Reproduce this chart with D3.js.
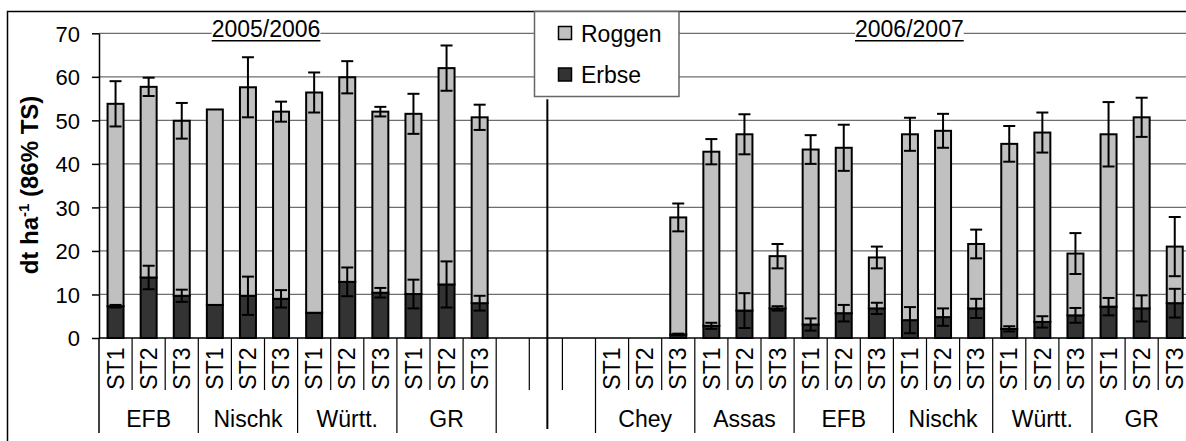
<!DOCTYPE html>
<html>
<head>
<meta charset="utf-8">
<script src="https://cdn.jsdelivr.net/npm/d3@7"></script>
<style>
  body { margin: 0; background: #fff; }
  svg { display: block; }
  text { font-family: "Liberation Sans", Arial, sans-serif; fill: #000; }
</style>
</head>
<body>
<svg id="chart"></svg>
<script>
// categories
const seasons = ['2005/2006', '2006/2007'];
const varieties0506 = ['EFB', 'Nischk', 'Württ.', 'GR'];
const varieties0607 = ['Chey', 'Assas', 'EFB', 'Nischk', 'Württ.', 'GR'];
const stages = ['ST1', 'ST2', 'ST3'];
const seriesNames = ['Roggen', 'Erbse'];
const yTicks = [0, 10, 20, 30, 40, 50, 60, 70];

// dt/ha, order: variety x stage
const erbse0506    = [7.3, 13.9, 9.7,  7.6, 9.7, 9.0,  5.8, 12.9, 10.4,  10.1, 12.3, 8.0];
const roggen0506   = [46.5, 43.8, 40.2, 44.9, 47.9, 43.0, 50.6, 47.0, 41.6, 41.4, 49.7, 42.7];
const errTotal0506 = [5.2, 2.1, 4.1,  0, 6.9, 2.3,  4.6, 3.7, 1.1,  4.6, 5.2, 2.9];
const errErbse0506 = [0.3, 2.7, 1.4,  0, 4.4, 2.0,  0, 3.3, 1.1,  3.3, 5.3, 1.7];

const erbse0607    = [null, null, 0.8,  2.8, 6.3, 6.8,  3.1, 5.7, 6.8,  4.1, 4.8, 6.8,  2.1, 3.7, 5.2,  7.2, 6.8, 8.0];
const roggen0607   = [null, null, 26.9, 40.0, 40.5, 12.0, 40.2, 38.0, 11.7, 42.7, 42.8, 14.8, 42.5, 43.5, 14.2, 39.6, 43.9, 13.0];
const errTotal0607 = [null, null, 3.2,  2.9, 4.6, 2.8,  3.3, 5.3, 2.5,  3.8, 3.9, 3.3,  4.1, 4.6, 4.7,  7.4, 4.5, 6.8];
const errErbse0607 = [null, null, 0.2,  0.7, 4.0, 0.5,  1.4, 1.9, 1.3,  3.0, 2.0, 2.2,  0.6, 1.3, 1.7,  2.0, 3.0, 3.3];

const gapSlots = 3;

// build slot list
let slots = [];
let groups = [];
function addSeason(varieties, erbse, roggen, errT, errE) {
    varieties.forEach((v, gi) => {
        groups.push({ name: v, start: slots.length, count: stages.length });
        stages.forEach((s, si) => {
            let k = gi * stages.length + si;
            slots.push({ stage: s, erbse: erbse[k], roggen: roggen[k], errT: errT[k], errE: errE[k] });
        });
    });
}
addSeason(varieties0506, erbse0506, roggen0506, errTotal0506, errErbse0506);
const gapStart = slots.length;
groups.push({ name: '', start: slots.length, count: gapSlots });
for (let i = 0; i < gapSlots; i++) slots.push({ stage: '', erbse: null, roggen: null });
addSeason(varieties0607, erbse0607, roggen0607, errTotal0607, errErbse0607);

const width = 1186, height = 441;
const plot = { left: 99, top: 33.3, bottom: 338, step: 33.1 };
const font = '"Liberation Sans", Arial, sans-serif';

const svg = d3.select('#chart')
    .attr('width', width)
    .attr('height', height);

svg.append('rect')
    .attr('width', width).attr('height', height)
    .attr('fill', '#fff');

// outer chart border
svg.append('rect')
    .attr('x', 7.5).attr('y', 11.5)
    .attr('width', 1200).attr('height', 440)
    .attr('fill', 'none')
    .attr('stroke', '#000')
    .attr('stroke-width', 1.5);

const xscale = d3.scaleBand()
    .domain(d3.range(slots.length))
    .range([plot.left, plot.left + plot.step * slots.length])
    .paddingInner(0.517)
    .paddingOuter(0.2585);

const yscale = d3.scaleLinear()
    .domain([0, 70])
    .range([plot.bottom, plot.top]);

const slotStart = i => plot.left + i * xscale.step();
const slotCenter = i => xscale(i) + xscale.bandwidth() / 2;
const xEnd = xscale.range()[1];

// gridlines
svg.append('g')
    .selectAll('line')
    .data(yTicks.filter(t => t > 0))
    .join('line')
    .attr('x1', plot.left).attr('x2', xEnd)
    .attr('y1', d => yscale(d)).attr('y2', d => yscale(d))
    .attr('stroke', '#6e6e6e')
    .attr('stroke-width', 1.3);

// bars
const barData = slots.map((d, i) => ({ ...d, i })).filter(d => d.erbse != null);

svg.append('g')
    .selectAll('rect')
    .data(barData)
    .join('rect')
    .attr('x', d => xscale(d.i))
    .attr('width', xscale.bandwidth())
    .attr('y', d => yscale(d.erbse))
    .attr('height', d => yscale(0) - yscale(d.erbse))
    .attr('fill', '#333333')
    .attr('stroke', '#000')
    .attr('stroke-width', 2);

svg.append('g')
    .selectAll('rect')
    .data(barData)
    .join('rect')
    .attr('x', d => xscale(d.i))
    .attr('width', xscale.bandwidth())
    .attr('y', d => yscale(d.erbse + d.roggen))
    .attr('height', d => yscale(d.erbse) - yscale(d.erbse + d.roggen))
    .attr('fill', '#c0c0c0')
    .attr('stroke', '#000')
    .attr('stroke-width', 2);

// error bars
const errs = [];
barData.forEach(d => {
    if (d.errE > 0) errs.push({ i: d.i, v: d.erbse, e: d.errE });
    if (d.errT > 0) errs.push({ i: d.i, v: d.erbse + d.roggen, e: d.errT });
});
const errG = svg.append('g')
    .attr('stroke', '#000')
    .attr('stroke-width', 2);
errs.forEach(d => {
    let cx = slotCenter(d.i);
    errG.append('line')
        .attr('x1', cx).attr('x2', cx)
        .attr('y1', yscale(d.v - d.e)).attr('y2', yscale(d.v + d.e));
    [d.v - d.e, d.v + d.e].forEach(v => {
        errG.append('line')
            .attr('x1', cx - 6).attr('x2', cx + 6)
            .attr('y1', yscale(v)).attr('y2', yscale(v));
    });
});

// y axis
const yaxis = d3.axisLeft(yscale)
    .tickValues(yTicks)
    .tickSize(7)
    .tickSizeOuter(0)
    .tickPadding(12);
const yaxisGroup = svg.append('g')
    .attr('transform', `translate(${plot.left}, 0)`)
    .call(yaxis)
    .attr('font-family', null)
    .attr('font-size', null);
yaxisGroup.select('.domain').attr('stroke', '#000').attr('stroke-width', 1.5);
yaxisGroup.selectAll('.tick line').attr('stroke', '#000').attr('stroke-width', 1.5);
yaxisGroup.selectAll('.tick text')
    .attr('font-size', 22)
    .attr('dy', '0.36em')
    .style('font-family', font);

svg.append('text')
    .attr('transform', `translate(37.5, 185) rotate(-90)`)
    .attr('text-anchor', 'middle')
    .attr('font-size', 24)
    .attr('font-weight', 'bold')
    .call(t => {
        t.append('tspan').text('dt ha');
        t.append('tspan').attr('font-size', 15).attr('dy', '-0.55em').text('-1');
        t.append('tspan').attr('dy', '0.35em').text(' (86% TS)');
    });

// x axis line
svg.append('line')
    .attr('x1', plot.left).attr('x2', xEnd)
    .attr('y1', plot.bottom).attr('y2', plot.bottom)
    .attr('stroke', '#000')
    .attr('stroke-width', 1.5);

// category separators
const groupStarts = new Set(groups.map(g => g.start));
const sepG = svg.append('g').attr('stroke', '#000').attr('stroke-width', 1.2);
d3.range(slots.length + 1).forEach(i => {
    let long = groupStarts.has(i) || i === slots.length;
    sepG.append('line')
        .attr('x1', slotStart(i)).attr('x2', slotStart(i))
        .attr('y1', plot.bottom).attr('y2', long ? 433 : 390)
        .attr('stroke-width', i === 0 ? 1.5 : 1.2);
});

// stage labels
svg.append('g')
    .selectAll('text')
    .data(slots.map((d, i) => ({ ...d, i })).filter(d => d.stage))
    .join('text')
    .attr('transform', d => `translate(${slotCenter(d.i) + 8.2}, 347.5) rotate(-90)`)
    .attr('text-anchor', 'end')
    .attr('font-size', 23)
    .text(d => d.stage);

// variety labels
svg.append('g')
    .selectAll('text')
    .data(groups.filter(g => g.name))
    .join('text')
    .attr('x', g => slotStart(g.start) + g.count * xscale.step() / 2)
    .attr('y', 426.7)
    .attr('text-anchor', 'middle')
    .attr('font-size', 23)
    .text(g => g.name);

// season separator
svg.append('line')
    .attr('x1', slotCenter(gapStart + 1) + 1.5).attr('x2', slotCenter(gapStart + 1) + 1.5)
    .attr('y1', 99.3).attr('y2', 429)
    .attr('stroke', '#000')
    .attr('stroke-width', 2);

// legend
const legend = svg.append('g');
legend.append('rect')
    .attr('x', 534.5).attr('y', 11.5)
    .attr('width', 144.5).attr('height', 85)
    .attr('fill', '#fff')
    .attr('stroke', '#666')
    .attr('stroke-width', 1.5);
const legendColors = ['#c0c0c0', '#333333'];
seriesNames.forEach((n, k) => {
    let yy = 26.5 + k * 41.5;
    legend.append('rect')
        .attr('x', 558.5).attr('y', yy)
        .attr('width', 13).attr('height', 13)
        .attr('fill', legendColors[k])
        .attr('stroke', '#000')
        .attr('stroke-width', 1.5);
    legend.append('text')
        .attr('x', 581).attr('y', yy + 15)
        .attr('font-size', 23)
        .text(n);
});

// season titles
const titlePos = [211.7, 855];
seasons.forEach((s, k) => {
    let g = svg.append('g');
    let bg = g.append('rect').attr('fill', '#fff');
    let t = g.append('text')
        .attr('x', titlePos[k]).attr('y', 37.3)
        .attr('font-size', 23)
        .text(s);
    let bb = t.node().getBBox();
    bg.attr('x', bb.x).attr('y', 21).attr('width', bb.width).attr('height', 20);
    g.append('line')
        .attr('x1', bb.x).attr('x2', bb.x + bb.width)
        .attr('y1', 40.7).attr('y2', 40.7)
        .attr('stroke', '#000')
        .attr('stroke-width', 1.6);
});
</script>
</body>
</html>
